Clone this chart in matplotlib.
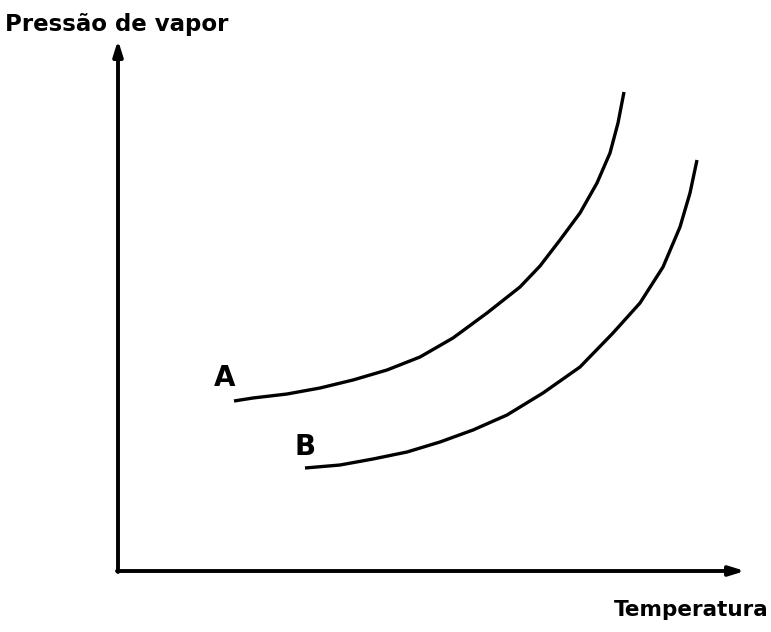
import matplotlib.pyplot as plt

# curve values (arbitrary units, origin at the axes corner)
temp_a = [116, 135, 169, 202, 235, 269, 302, 335, 369, 402, 422, 442, 462, 479, 492, 500, 506]
pres_a = [170, 173, 177, 183, 191, 201, 214, 233, 258, 284, 305, 331, 358, 388, 418, 448, 479]

temp_b = [187, 222, 255, 289, 322, 355, 389, 425, 462, 495, 522, 545, 562, 572, 579]
pres_b = [103, 106, 112, 119, 129, 141, 156, 178, 204, 238, 268, 304, 344, 378, 411]

x_end = 627
y_end = 531
labels = {"A": (107, 193), "B": (187, 124)}


def main():
    fig = plt.figure(figsize=(7.71, 6.32), dpi=100)
    ax = fig.add_axes([0, 0, 1, 1])
    ax.set_xlim(-118, 653)
    ax.set_ylim(-61, 571)
    ax.axis("off")

    # axes drawn as arrows
    arrow = dict(arrowstyle="-|>,head_length=0.9,head_width=0.28", lw=2.8,
                 color="black", shrinkA=0, shrinkB=0)
    ax.annotate("", xy=(x_end, 0), xytext=(-1, 0), arrowprops=arrow)
    ax.annotate("", xy=(0, y_end), xytext=(0, -1), arrowprops=arrow)

    ax.plot(temp_a, pres_a, color="black", lw=2.4, solid_capstyle="butt",
            solid_joinstyle="round")
    ax.plot(temp_b, pres_b, color="black", lw=2.4, solid_capstyle="butt",
            solid_joinstyle="round")

    for name, (x, y) in labels.items():
        ax.text(x, y, name, fontsize=20, fontweight="bold", ha="center", va="center")

    ax.text(-113, 546, "Pressão de vapor", fontsize=16.5, fontweight="bold",
            ha="left", va="center")
    ax.text(651, -39, "Temperatura", fontsize=15.5, fontweight="bold",
            ha="right", va="center")

    fig.savefig("out.png", dpi=100)


if __name__ == "__main__":
    main()
